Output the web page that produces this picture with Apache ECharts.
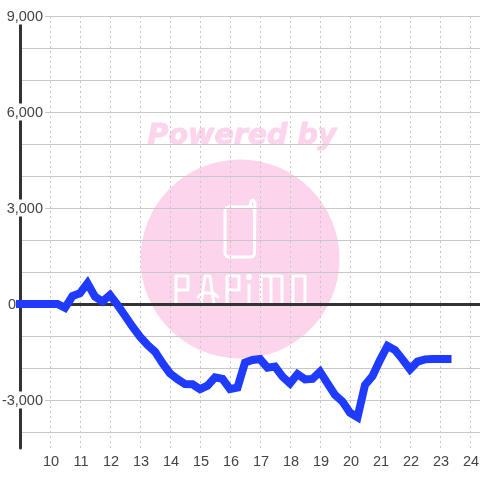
<!DOCTYPE html>
<html><head><meta charset="utf-8">
<style>html,body{margin:0;padding:0;background:#fff}#c{width:480px;height:480px}</style>
<script src="https://cdn.jsdelivr.net/npm/echarts@6/dist/echarts.min.js"></script>
</head><body><div id="c"></div>
<script>
const hours = [9,9.25,9.5,9.75,10,10.25,10.5,10.75,11,11.25,11.5,11.75,12,12.25,12.5,12.75,13,13.25,13.5,13.75,14,14.25,14.5,14.75,15,15.25,15.5,15.75,16,16.25,16.5,16.75,17,17.25,17.5,17.75,18,18.25,18.5,18.75,19,19.25,19.5,19.75,20,20.25,20.5,20.75,21,21.25,21.5,21.75,22,22.25,22.5,22.75,23,23.25];
const values = [0,0,0,0,0,0,-120,250,340,650,230,75,280,-30,-365,-710,-1020,-1280,-1490,-1850,-2170,-2350,-2500,-2510,-2660,-2550,-2290,-2340,-2660,-2610,-1830,-1750,-1720,-1990,-1955,-2270,-2480,-2190,-2355,-2340,-2115,-2480,-2840,-3050,-3400,-3540,-2530,-2250,-1750,-1310,-1440,-1730,-2040,-1800,-1730,-1720,-1720,-1720];
const xTicks = [10,11,12,13,14,15,16,17,18,19,20,21,22,23,24];
const yTicks = [-4000,-3000,-2000,-1000,0,1000,2000,3000,4000,5000,6000,7000,8000,9000];
const yLabels = [-3000,0,3000,6000,9000];
const white = '#ffffff', pink = '#fcd5ec';
const stroke = {stroke: white, lineWidth: 3, fill: null, lineCap:'round', lineJoin:'round'};
function poly(points, extra){return {type:'polyline', z:-1, shape:{points}, style:Object.assign({}, stroke, extra||{}), silent:true};}
const chart = echarts.init(document.getElementById('c'), null, {renderer:'canvas'});
chart.setOption({
  animation:false,
  grid:{left:20, right:0, top:16, bottom:32, outerBoundsMode:'none', containLabel:false},
  graphic:{elements:[
    {type:'circle', z:-2, silent:true, shape:{cx:240, cy:259, r:99.5}, style:{fill:pink}},
    {type:'text', z:-2, silent:true, x:242, y:136.5, style:{text:'Powered by', fill:pink, stroke:pink, lineWidth:1, font:'italic bold 28.5px "DejaVu Sans"', align:'center', verticalAlign:'middle'}},
    {type:'rect', z:-1, silent:true, shape:{x:225, y:207, width:29.5, height:50, r:4}, style:stroke},
    poly([[250,207],[251,201],[253,200],[255,203],[254.5,240]]),
    poly([[176,304],[176,276],[188,276],[188,290],[176,290]]),
    poly([[201,304],[205,276],[210,276],[214,304]]),
    poly([[198,297],[203,293],[213,293],[218,297]]),
    poly([[227,304],[227,276],[239,276],[239,290],[227,290]]),
    poly([[249,285],[249,304]]),
    {type:'circle', z:-1, silent:true, shape:{cx:249, cy:277, r:3}, style:{fill:white}},
    poly([[261,304],[261,276],[271,276],[271,304]]),
    poly([[271,276],[282,276],[282,304]]),
    poly([[293,276],[305,276],[305,304],[293,304],[293,276]])
  ]},
  xAxis:[{
    type:'value', min:9, max:24.3333, position:'bottom',
    axisLine:{show:false, onZero:false}, axisTick:{show:false, customValues:xTicks},
    axisLabel:{customValues:xTicks, color:'#444', fontFamily:'Liberation Sans', fontSize:14.5, margin:6, padding:[0,0,0,2], showMinLabel:true, showMaxLabel:true},
    splitLine:{show:true, lineStyle:{color:'#c8c8c8', type:[2,3], width:1}}
  },{
    type:'value', min:9, max:24.3333,
    axisLine:{show:true, onZero:true, lineStyle:{color:'#333', width:3}},
    axisTick:{show:false}, axisLabel:{show:false}, splitLine:{show:false}
  }],
  yAxis:{
    type:'value', min:-4500, max:9000,
    axisLine:{show:true, lineStyle:{color:'#333', width:3}},
    axisTick:{show:false, customValues:yTicks},
    axisLabel:{customValues:yLabels, color:'#444', fontFamily:'Liberation Sans', fontSize:14.5, margin:-25, align:'right',
      formatter:v=>Number(v)===0 ? '{z|0}' : '{n|'+Number(v).toLocaleString('en-US')+'}',
      rich:{
        n:{backgroundColor:'#fff', padding:[2,2,0,2], color:'#444', fontFamily:'Liberation Sans', fontSize:14.5},
        z:{padding:[2,29,0,0], color:'#444', fontFamily:'Liberation Sans', fontSize:14.5}
      }},
    splitLine:{show:true, lineStyle:{color:'#c8c8c8', width:1}}
  },
  series:[{
    type:'line', xAxisIndex:0, showSymbol:false, symbol:'none', clip:false, z:10,
    data:hours.map((h,i)=>[h,values[i]]),
    lineStyle:{color:'#1f3bff', width:8, cap:'square', join:'miter'}
  }]
});
</script></body></html>
